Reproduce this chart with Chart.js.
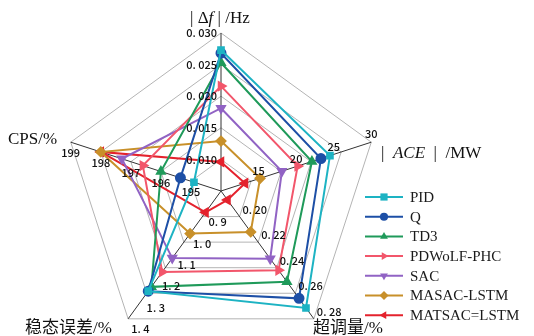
<!DOCTYPE html>
<html><head><meta charset="utf-8">
<script src="https://cdn.jsdelivr.net/npm/chart.js@4/dist/chart.umd.min.js"></script>
<style>
html,body{margin:0;padding:0;overflow:hidden;background:#fff;width:534px;height:336px}
#wrap{position:absolute;left:0;top:0;width:534px;height:352px}
</style>
</head><body><div id="wrap"><canvas id="c"></canvas></div>
<script>
// Axes (clockwise from top) and their own value ranges
const axisNames = ['|Δf|/Hz', '|ACE|/MW', '超调量/%', '稳态误差/%', 'CPS/%'];
const axisMin = [0.005, 10, 0.18, 0.8, 194];
const axisMax = [0.030, 30, 0.28, 1.4, 199];

// Tick labels per axis
const ticksDf = [0.010, 0.015, 0.020, 0.025, 0.030];
const ticksDfText = ['0. 010', '0. 015', '0. 020', '0. 025', '0. 030'];
const ticksACE = [15, 20, 25, 30];
const ticksACEText = ['15', '20', '25', '30'];
const ticksOver = [0.20, 0.22, 0.24, 0.26, 0.28];
const ticksOverText = ['0. 20', '0. 22', '0. 24', '0. 26', '0. 28'];
const ticksErr = [0.9, 1.0, 1.1, 1.2, 1.3, 1.4];
const ticksErrText = ['0. 9', '1. 0', '1. 1', '1. 2', '1. 3', '1. 4'];
const ticksCPS = [195, 196, 197, 198, 199];
const ticksCPSText = ['195', '196', '197', '198', '199'];

// Series values: [|Δf|, |ACE|, 超调量, 稳态误差, CPS]
const seriesNames = ['PID', 'Q', 'TD3', 'PDWoLF-PHC', 'SAC', 'MASAC-LSTM', 'MATSAC=LSTM'];
const valPID    = [0.0273, 24.5, 0.2715, 1.27, 194.9];
const valQ      = [0.0268, 23.3, 0.264, 1.27, 195.35];
const valTD3    = [0.0253, 22.1, 0.251, 1.25, 196.0];
const valPDWoLF = [0.0216, 20.2, 0.242, 1.18, 196.6];
const valSAC    = [0.0181, 18.1, 0.233, 1.115, 197.3];
const valMASAC  = [0.0129, 15.2, 0.212, 1.0, 198.0];
const valMATSAC = [0.0096, 13.2, 0.187, 0.9, 198.0];

const seriesValues = [valPID, valQ, valTD3, valPDWoLF, valSAC, valMASAC, valMATSAC];
const colors = ['#1db3c3', '#1d4fa6', '#1f9a5a', '#f2566b', '#9163c4', '#c8902a', '#e4222d'];
const markers = [
  {style:'rect', rot:0, r:4}, {style:'circle', rot:0, r:4.5}, {style:'triangle', rot:0, r:4.5},
  {style:'triangle', rot:90, r:4.5}, {style:'triangle', rot:180, r:4.5}, {style:'rectRot', rot:0, r:4.5},
  {style:'triangle', rot:-90, r:4.5}
];

const RINGS = 5;
function norm(i, v) { return (v - axisMin[i]) / (axisMax[i] - axisMin[i]) * RINGS; }

const datasets = seriesNames.map((n, k) => ({
  label: n,
  data: seriesValues[k].map((v, i) => norm(i, v)),
  borderColor: colors[k],
  backgroundColor: colors[k],
  pointBackgroundColor: colors[k],
  pointBorderColor: colors[k],
  borderWidth: 2,
  fill: false,
  pointStyle: markers[k].style,
  pointRotation: markers[k].rot,
  pointRadius: markers[k].r,
  pointHoverRadius: markers[k].r
}));

function marker(ctx, m, x, y, color) {
  ctx.save();
  ctx.fillStyle = color;
  ctx.translate(x, y);
  ctx.rotate(m.rot * Math.PI / 180);
  const r = m.r;
  ctx.beginPath();
  if (m.style === 'rect') { ctx.rect(-r * 0.8, -r * 0.8, r * 1.6, r * 1.6); }
  else if (m.style === 'circle') { ctx.arc(0, 0, r * 0.9, 0, Math.PI * 2); }
  else if (m.style === 'rectRot') { ctx.moveTo(0, -r); ctx.lineTo(r, 0); ctx.lineTo(0, r); ctx.lineTo(-r, 0); ctx.closePath(); }
  else { ctx.moveTo(0, -r); ctx.lineTo(r * 0.87, r * 0.5); ctx.lineTo(-r * 0.87, r * 0.5); ctx.closePath(); }
  ctx.fill();
  ctx.restore();
}

function drawParts(ctx, parts, x, y) {
  for (const p of parts) {
    ctx.font = p[1];
    ctx.fillText(p[0], x, y);
    x += ctx.measureText(p[0]).width;
  }
}

const overlay = {
  id: 'overlay',
  afterDatasetsDraw(chart) {
    const ctx = chart.ctx;
    const sc = chart.scales.r;
    ctx.save();
    // per-axis tick labels
    const tickSets = [
      [ticksDf, ticksDfText, 'right', -4, 0],
      [ticksACE, ticksACEText, 'center', 0, -8],
      [ticksOver, ticksOverText, 'left', 3, -7],
      [ticksErr, ticksErrText, 'left', 3, 10],
      [ticksCPS, ticksCPSText, 'center', 0, 11]
    ];
    ctx.fillStyle = '#111';
    ctx.font = '500 11px "Noto Sans CJK SC", "DejaVu Sans", sans-serif';
    ctx.textBaseline = 'middle';
    tickSets.forEach((t, i) => {
      ctx.textAlign = t[2];
      t[0].forEach((v, j) => {
        const d = sc.getDistanceFromCenterForValue(norm(i, v));
        const p = sc.getPointPosition(i, d);
        ctx.fillText(t[1][j], p.x + t[3], p.y + t[4]);
      });
    });
    // axis titles
    ctx.fillStyle = '#111';
    ctx.textAlign = 'left';
    ctx.textBaseline = 'alphabetic';
    const serif = '17px "Liberation Serif", serif';
    const serifI = 'italic 17px "Liberation Serif", serif';
    drawParts(ctx, [['| Δ', serif], ['f', serifI], [' | /Hz', serif]], 190, 23);
    drawParts(ctx, [['|  ', serif], ['ACE', serifI], ['  |  /MW', serif]], 381, 158);
    drawParts(ctx, [['CPS/%', serif]], 8, 144);
    const cjk = '17px "Noto Sans CJK SC", sans-serif';
    drawParts(ctx, [['稳态误差', cjk], ['/%', serif]], 25, 333);
    drawParts(ctx, [['超调量', cjk], ['/%', serif]], 313, 333);
    // legend
    const y0 = 197, dy = 19.7;
    seriesNames.forEach((n, k) => {
      const y = y0 + k * dy;
      ctx.strokeStyle = colors[k];
      ctx.lineWidth = 2;
      ctx.beginPath(); ctx.moveTo(365, y); ctx.lineTo(403, y); ctx.stroke();
      marker(ctx, {style: markers[k].style, rot: markers[k].rot, r: 4.5}, 384, y, colors[k]);
      ctx.fillStyle = '#1a1a1a';
      ctx.font = '15px "Liberation Serif", serif';
      ctx.textBaseline = 'middle';
      ctx.fillText(n, 410, y + 1);
    });
    ctx.restore();
  }
};

new Chart(document.getElementById('c'), {
  type: 'radar',
  data: { labels: axisNames, datasets },
  options: {
    responsive: true,
    maintainAspectRatio: false,
    animation: false,
    layout: { padding: { left: 63, right: 155, top: 33, bottom: 3 } },
    plugins: { legend: { display: false }, tooltip: { enabled: false }, title: { display: false } },
    scales: {
      r: {
        min: 0, max: RINGS,
        ticks: { display: false, stepSize: 1 },
        pointLabels: { display: false },
        grid: { color: '#b4b4b4', lineWidth: 1 },
        angleLines: { color: '#333', lineWidth: 1 }
      }
    }
  },
  plugins: [overlay]
});
</script></body></html>
